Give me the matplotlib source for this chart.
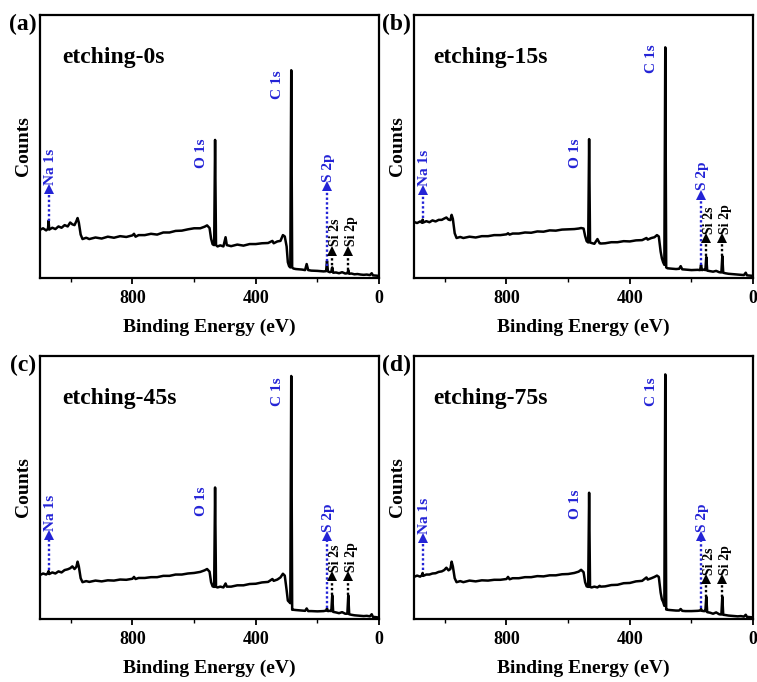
import matplotlib
matplotlib.use('Agg')
import matplotlib.pyplot as plt
from matplotlib.ticker import MultipleLocator

plt.rcParams['font.family'] = ['Liberation Serif', 'DejaVu Serif']
plt.rcParams['font.weight'] = 'bold'

# Binding energy grid (eV), shared by all four survey spectra
energy = [1100, 1090, 1080, 1074, 1072, 1070,
          1060, 1050, 1040, 1030, 1020, 1010,
          1002, 995, 988, 982, 978, 974,
          968, 962, 950, 940, 920, 900,
          880, 860, 840, 820, 800, 795,
          790, 780, 760, 740, 720, 700,
          680, 660, 640, 620, 600, 580,
          566, 558, 550, 545, 540, 535,
          532, 529, 524, 515, 505, 498,
          494, 480, 460, 440, 420, 400,
          380, 360, 346, 342, 330, 320,
          312, 306, 300, 296, 292, 288,
          285, 282, 278, 270, 260, 250,
          240, 235, 230, 220, 200, 180,
          172, 169, 166, 160, 155, 152,
          149, 140, 130, 120, 110, 103,
          100, 97, 90, 80, 70, 60,
          50, 40, 30, 24, 20, 10,
          0]

# Counts (a.u., normalised to the frame height)
counts_0s = [0.183, 0.189, 0.181, 0.187, 0.218, 0.184,
             0.191, 0.186, 0.196, 0.191, 0.201, 0.196,
             0.211, 0.204, 0.201, 0.216, 0.228, 0.211,
             0.165, 0.148, 0.153, 0.148, 0.154, 0.150,
             0.157, 0.153, 0.159, 0.156, 0.162, 0.168,
             0.157, 0.163, 0.163, 0.168, 0.165, 0.173,
             0.173, 0.179, 0.180, 0.185, 0.189, 0.189,
             0.195, 0.200, 0.190, 0.150, 0.128, 0.125,
             0.525, 0.125, 0.120, 0.124, 0.120, 0.155,
             0.125, 0.121, 0.127, 0.123, 0.129, 0.129,
             0.132, 0.133, 0.141, 0.132, 0.139, 0.141,
             0.163, 0.158, 0.120, 0.060, 0.045, 0.040,
             0.790, 0.040, 0.036, 0.034, 0.033, 0.032,
             0.030, 0.053, 0.030, 0.028, 0.027, 0.025,
             0.026, 0.065, 0.025, 0.022, 0.024, 0.040,
             0.020, 0.021, 0.018, 0.022, 0.017, 0.018,
             0.030, 0.016, 0.017, 0.014, 0.015, 0.013,
             0.012, 0.013, 0.011, 0.018, 0.010, 0.009,
             0.008]

counts_15s = [0.213, 0.209, 0.215, 0.210, 0.222, 0.211,
              0.216, 0.212, 0.219, 0.215, 0.221, 0.221,
              0.226, 0.230, 0.222, 0.220, 0.240, 0.225,
              0.170, 0.152, 0.156, 0.152, 0.157, 0.154,
              0.159, 0.159, 0.163, 0.163, 0.166, 0.170,
              0.165, 0.169, 0.169, 0.173, 0.172, 0.177,
              0.176, 0.181, 0.180, 0.184, 0.185, 0.186,
              0.188, 0.190, 0.188, 0.160, 0.140, 0.135,
              0.528, 0.135, 0.133, 0.130, 0.148, 0.132,
              0.131, 0.132, 0.136, 0.136, 0.140, 0.139,
              0.143, 0.144, 0.152, 0.146, 0.152, 0.155,
              0.163, 0.158, 0.100, 0.075, 0.060, 0.050,
              0.877, 0.040, 0.037, 0.036, 0.035, 0.034,
              0.035, 0.045, 0.033, 0.032, 0.030, 0.031,
              0.030, 0.050, 0.030, 0.032, 0.030, 0.080,
              0.028, 0.026, 0.024, 0.027, 0.022, 0.021,
              0.083, 0.020, 0.018, 0.016, 0.015, 0.014,
              0.013, 0.012, 0.011, 0.020, 0.010, 0.009,
              0.008]

counts_45s = [0.167, 0.173, 0.169, 0.175, 0.182, 0.171,
              0.177, 0.173, 0.181, 0.177, 0.186, 0.189,
              0.193, 0.200, 0.190, 0.198, 0.218, 0.200,
              0.155, 0.140, 0.144, 0.141, 0.146, 0.143,
              0.147, 0.146, 0.150, 0.149, 0.153, 0.160,
              0.152, 0.156, 0.156, 0.159, 0.159, 0.164,
              0.164, 0.169, 0.169, 0.173, 0.175, 0.179,
              0.185, 0.190, 0.180, 0.140, 0.124, 0.122,
              0.500, 0.122, 0.120, 0.123, 0.120, 0.135,
              0.123, 0.123, 0.128, 0.128, 0.133, 0.134,
              0.139, 0.141, 0.152, 0.145, 0.150, 0.158,
              0.172, 0.165, 0.110, 0.070, 0.065, 0.060,
              0.924, 0.035, 0.035, 0.034, 0.033, 0.032,
              0.031, 0.040, 0.030, 0.030, 0.029, 0.030,
              0.032, 0.040, 0.030, 0.031, 0.030, 0.090,
              0.027, 0.025, 0.022, 0.026, 0.020, 0.020,
              0.090, 0.018, 0.016, 0.014, 0.013, 0.012,
              0.011, 0.012, 0.010, 0.018, 0.008, 0.007,
              0.005]

counts_75s = [0.160, 0.165, 0.161, 0.167, 0.175, 0.164,
              0.169, 0.169, 0.173, 0.174, 0.179, 0.181,
              0.186, 0.195, 0.185, 0.190, 0.218, 0.200,
              0.155, 0.140, 0.144, 0.140, 0.146, 0.143,
              0.147, 0.146, 0.149, 0.149, 0.152, 0.160,
              0.151, 0.155, 0.155, 0.159, 0.159, 0.163,
              0.162, 0.166, 0.166, 0.170, 0.171, 0.175,
              0.180, 0.187, 0.178, 0.140, 0.124, 0.122,
              0.480, 0.122, 0.120, 0.123, 0.120, 0.126,
              0.123, 0.124, 0.129, 0.130, 0.136, 0.137,
              0.143, 0.145, 0.158, 0.150, 0.155, 0.160,
              0.165, 0.160, 0.100, 0.075, 0.065, 0.050,
              0.930, 0.036, 0.035, 0.034, 0.033, 0.032,
              0.032, 0.038, 0.031, 0.030, 0.030, 0.031,
              0.032, 0.038, 0.031, 0.030, 0.030, 0.085,
              0.026, 0.024, 0.020, 0.025, 0.018, 0.017,
              0.085, 0.016, 0.015, 0.013, 0.012, 0.011,
              0.010, 0.011, 0.009, 0.016, 0.008, 0.007,
              0.006]

panel_tags = ['(a)', '(b)', '(c)', '(d)']
panel_titles = ['etching-0s', 'etching-15s', 'etching-45s', 'etching-75s']
spectra = [counts_0s, counts_15s, counts_45s, counts_75s]

# peak label energies (eV)
na_pos, o_pos, c_pos, s_pos, si2s_pos, si2p_pos = 1072, 577, 330, 170, 153, 101

BLUE = '#2323d6'

# per-panel label heights (frame fraction): Na arrow, O text, C text, S arrow, Si arrow
label_y = [
    dict(na=(0.218, 0.35), o=0.42, c=0.68, s=(0.045, 0.36), si=(0.03, 0.115)),
    dict(na=(0.228, 0.345), o=0.42, c=0.78, s=(0.05, 0.328), si=(0.085, 0.163)),
    dict(na=(0.186, 0.33), o=0.39, c=0.81, s=(0.04, 0.327), si=(0.09, 0.175)),
    dict(na=(0.186, 0.32), o=0.38, c=0.81, s=(0.04, 0.327), si=(0.085, 0.163)),
]

fig = plt.figure(figsize=(7.57, 6.82), dpi=100)
ax_rects = [
    [0.0528, 0.5924, 0.448, 0.3856],
    [0.5469, 0.5924, 0.448, 0.3856],
    [0.0528, 0.0924, 0.448, 0.3856],
    [0.5469, 0.0924, 0.448, 0.3856],
]


def arrow(ax, x, y0, y1, color):
    ax.plot([x, x], [y0, y1 - 0.02], linestyle=(0, (1, 1)), color=color, lw=1.7)
    ax.plot([x], [y1 - 0.012], marker='^', color=color, ms=7, mew=0)


for i, rect in enumerate(ax_rects):
    ax = fig.add_axes(rect)
    ax.plot(energy, spectra[i], color='black', lw=1.8)
    ax.set_xlim(1100, 0)
    ax.set_ylim(0, 1)
    ax.xaxis.set_major_locator(MultipleLocator(400))
    ax.xaxis.set_minor_locator(MultipleLocator(200))
    ax.set_yticks([])
    ax.tick_params(axis='x', which='major', direction='out', length=4, width=1.3,
                   labelsize=13, pad=5)
    ax.tick_params(axis='x', which='minor', direction='out', length=3, width=1.0)
    for sp in ax.spines.values():
        sp.set_linewidth(1.6)
    for lab in ax.get_xticklabels():
        lab.set_fontweight('bold')
    ax.set_xlabel('Binding Energy (eV)', fontsize=14, fontweight='bold', labelpad=8)
    ax.set_ylabel('Counts', fontsize=14, fontweight='bold', labelpad=6)

    ax.text(-0.01, 0.965, panel_tags[i], transform=ax.transAxes, fontsize=17,
            fontweight='bold', ha='right', va='center')
    ax.text(0.065 if i % 2 == 0 else 0.056, 0.84, panel_titles[i],
            transform=ax.transAxes, fontsize=17, fontweight='bold',
            ha='left', va='center')

    ly = label_y[i]
    # Na 1s
    arrow(ax, na_pos, ly['na'][0], ly['na'][1], BLUE)
    ax.text(na_pos - 6, ly['na'][1] + 0.005, 'Na 1s', rotation=90, color=BLUE,
            fontsize=11, fontweight='bold', ha='center', va='bottom')
    # O 1s, C 1s
    ax.text(o_pos, ly['o'], 'O 1s', rotation=90, color=BLUE, fontsize=11,
            fontweight='bold', ha='center', va='bottom')
    ax.text(c_pos, ly['c'], 'C 1s', rotation=90, color=BLUE, fontsize=11,
            fontweight='bold', ha='center', va='bottom')
    # S 2p
    arrow(ax, s_pos, ly['s'][0], ly['s'][1], BLUE)
    ax.text(s_pos - 6, ly['s'][1] + 0.005, 'S 2p', rotation=90, color=BLUE,
            fontsize=11, fontweight='bold', ha='center', va='bottom')
    # Si 2s, Si 2p
    for xp, name in [(si2s_pos, 'Si 2s'), (si2p_pos, 'Si 2p')]:
        arrow(ax, xp, ly['si'][0], ly['si'][1], 'black')
        ax.text(xp - 12, ly['si'][1] + 0.005, name, rotation=90, color='black',
                fontsize=10, fontweight='bold', ha='center', va='bottom')

fig.savefig('out.png', dpi=100)
